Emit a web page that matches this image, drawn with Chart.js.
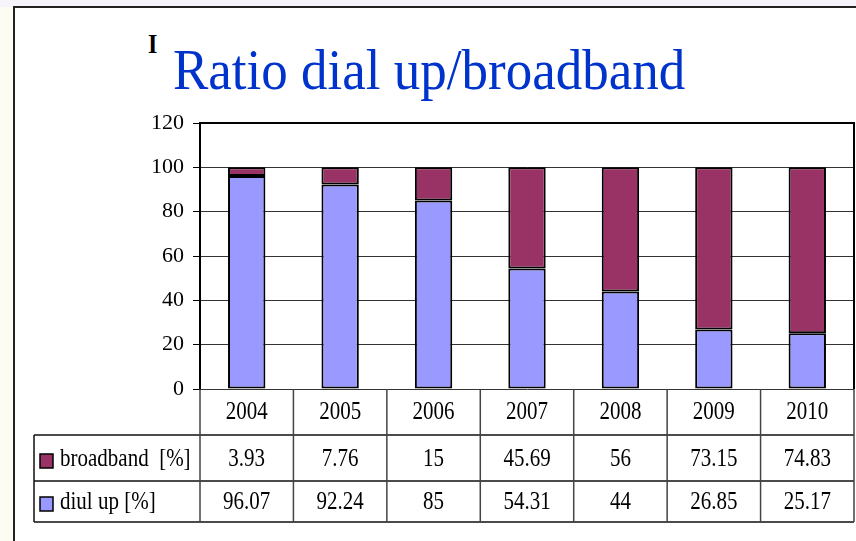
<!DOCTYPE html>
<html>
<head>
<meta charset="utf-8">
<script src="https://cdn.jsdelivr.net/npm/chart.js@4.4.0/dist/chart.umd.min.js"></script>
<style>
  html, body { margin: 0; padding: 0; }
  body { width: 856px; height: 541px; background: #fdfcf2; position: relative; overflow: hidden; }
  #topband { position: absolute; left: 0; top: 0; width: 856px; height: 7px; background: #f7f3fb; }
  #frame { position: absolute; left: 13px; top: 6px; width: 900px; height: 600px; background: #fff;
    border-left: 2px solid #222; border-top: 2px solid #222; }
  #wrap { position: absolute; left: 0; top: 0; width: 856px; height: 541px; }
  .txt { position: absolute; font-family: "Liberation Serif", "Times New Roman", serif; white-space: nowrap; }
  #mark { left: 148px; top: 33px; font-size: 24px; line-height: 24px; font-weight: bold; color: #000;
    transform: scaleY(1.15); transform-origin: 0 20px; }
  #title { left: 173px; top: 45px; font-size: 53px; line-height: 53px; color: #0033cc;
    transform: scaleY(1.06); transform-origin: 0 44px; }
</style>
</head>
<body>
<div id="topband"></div>
<div id="frame"></div>
<div class="txt" id="mark">I</div>
<div class="txt" id="title">Ratio dial up/broadband</div>
<div id="wrap"><canvas id="chart" width="856" height="541"></canvas></div>
<script>
// data
const years = ["2004", "2005", "2006", "2007", "2008", "2009", "2010"];
const broadband = [3.93, 7.76, 15, 45.69, 56, 73.15, 74.83];
const dialUp = [96.07, 92.24, 85, 54.31, 44, 26.85, 25.17];
const broadbandLabel = "broadband  [%]";
const dialUpLabel = "diul up [%]";

const BROADBAND_COLOR = "#993366";
const DIALUP_COLOR = "#9999ff";
const FONT = "\"Liberation Serif\", \"Times New Roman\", serif";

// draws text a bit taller than wide, like the stretched original
function stretchedText(ctx, text, x, baseline, align) {
  ctx.save();
  ctx.translate(x, baseline);
  ctx.scale(1, 1.15);
  ctx.textAlign = align;
  ctx.textBaseline = "alphabetic";
  ctx.fillText(text, 0, 0);
  ctx.restore();
}

// data table under the plot, columns follow the x scale
const dataTable = {
  id: "dataTable",
  afterDraw(chart) {
    const {ctx, chartArea} = chart;
    const x = chart.scales.x;
    const half = (x.getPixelForValue(1) - x.getPixelForValue(0)) / 2;
    const left = chartArea.left;
    const right = chartArea.right;
    const r0 = chartArea.bottom;
    const r1 = r0 + 46;
    const r2 = r1 + 46;
    const r3 = r2 + 41;
    const labelLeft = 34;

    ctx.save();
    // plot frame
    ctx.strokeStyle = "#000";
    ctx.lineWidth = 2;
    ctx.beginPath();
    ctx.moveTo(chartArea.left, chartArea.top);
    ctx.lineTo(right, chartArea.top);
    ctx.lineTo(right, chartArea.bottom);
    ctx.stroke();

    // horizontal rules
    ctx.lineWidth = 1.5;
    ctx.strokeStyle = "#111";
    ctx.beginPath();
    ctx.moveTo(labelLeft, r1); ctx.lineTo(right, r1);
    ctx.moveTo(labelLeft, r2); ctx.lineTo(right, r2);
    ctx.moveTo(labelLeft, r3); ctx.lineTo(right, r3);
    ctx.moveTo(labelLeft, r1); ctx.lineTo(labelLeft, r3);
    ctx.stroke();

    // vertical rules
    ctx.strokeStyle = "#444";
    ctx.beginPath();
    years.forEach((y, i) => {
      const cx = x.getPixelForValue(i);
      ctx.moveTo(cx - half, r0); ctx.lineTo(cx - half, r3);
    });
    ctx.moveTo(right, r0); ctx.lineTo(right, r3);
    ctx.stroke();

    // cell text
    ctx.fillStyle = "#000";
    ctx.font = "21px " + FONT;
    years.forEach((y, i) => {
      const cx = x.getPixelForValue(i);
      stretchedText(ctx, y, cx, r0 + 30, "center");
      stretchedText(ctx, String(broadband[i]), cx, r1 + 31, "center");
      stretchedText(ctx, String(dialUp[i]), cx, r2 + 28, "center");
    });

    // legend keys
    ctx.lineWidth = 1.5;
    ctx.strokeStyle = "#000";
    ctx.fillStyle = BROADBAND_COLOR;
    ctx.fillRect(40, r1 + 19, 13, 14);
    ctx.strokeRect(40, r1 + 19, 13, 14);
    ctx.fillStyle = DIALUP_COLOR;
    ctx.fillRect(40, r2 + 16, 13, 14);
    ctx.strokeRect(40, r2 + 16, 13, 14);

    ctx.fillStyle = "#000";
    stretchedText(ctx, broadbandLabel, 60, r1 + 31, "left");
    stretchedText(ctx, dialUpLabel, 60, r2 + 28, "left");
    ctx.restore();
  },
};

new Chart(document.getElementById("chart"), {
  type: "bar",
  data: {
    labels: years,
    datasets: [
      {
        label: dialUpLabel,
        data: dialUp,
        backgroundColor: DIALUP_COLOR,
        borderColor: "#000",
        borderWidth: 2,
        borderSkipped: false,
      },
      {
        label: broadbandLabel,
        data: broadband,
        backgroundColor: BROADBAND_COLOR,
        borderColor: "#000",
        borderWidth: 2,
        borderSkipped: false,
      },
    ],
  },
  options: {
    responsive: false,
    animation: false,
    events: [],
    categoryPercentage: 1,
    barPercentage: 0.4,
    layout: {padding: {left: 0, top: 123, right: 2, bottom: 152}},
    plugins: {
      legend: {display: false},
      tooltip: {enabled: false},
      title: {display: false},
    },
    scales: {
      x: {
        stacked: true,
        display: false,
      },
      y: {
        stacked: true,
        min: 0,
        max: 120,
        ticks: {
          stepSize: 20,
          color: "#000",
          padding: 9,
          font: {family: FONT, size: 22},
        },
        grid: {
          color: "#333",
          lineWidth: 1,
          tickLength: 7,
          tickColor: "#000",
        },
        border: {color: "#000", width: 2},
        afterFit(scale) {
          scale.width = 200;
        },
      },
    },
  },
  plugins: [dataTable],
});
</script>
</body>
</html>
